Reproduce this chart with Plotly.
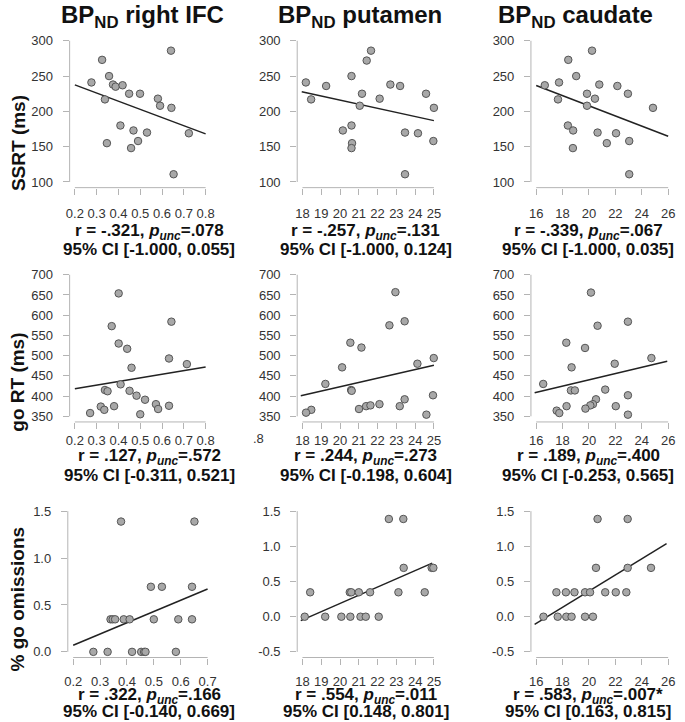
import plotly.graph_objects as go

# ---------------- data ----------------
# Row 1: SSRT (ms)
ssrt_ifc_x = [0.276, 0.325, 0.338, 0.347, 0.357, 0.375, 0.387, 0.409, 0.419, 0.449, 0.458,
              0.469, 0.490, 0.499, 0.531, 0.581, 0.591, 0.641, 0.643, 0.653, 0.723]
ssrt_ifc_y = [241, 273, 217, 155, 250, 238, 235, 180, 237, 225, 148,
              173, 158, 225, 170, 218, 208, 286, 205, 111, 169]
ssrt_put_x = [18.18, 18.46, 19.26, 20.15, 20.61, 20.61, 20.64, 20.61, 21.05, 21.17, 21.42,
              21.65, 22.11, 22.68, 23.20, 23.46, 23.46, 24.15, 24.58, 25.00, 24.97]
ssrt_put_y = [241, 217, 236, 173, 250, 180, 155, 148, 208, 225, 272,
              286, 218, 238, 236, 170, 111, 169, 225, 205, 158]
ssrt_cau_x = [16.65, 17.73, 17.65, 18.43, 18.40, 18.80, 18.78, 19.03, 19.85, 19.85, 20.23,
              20.45, 20.65, 20.78, 21.35, 22.05, 22.15, 22.95, 23.05, 23.05, 24.85]
ssrt_cau_y = [237, 241, 217, 273, 180, 173, 148, 250, 225, 208, 286,
              218, 170, 238, 155, 169, 236, 225, 158, 111, 205]

# Row 2: go RT (ms)
gort_ifc_x = [0.401, 0.369, 0.401, 0.440, 0.643, 0.460, 0.632, 0.714, 0.410, 0.338, 0.350,
              0.451, 0.483, 0.522, 0.572, 0.632, 0.319, 0.380, 0.582, 0.270, 0.335, 0.500]
gort_ifc_y = [654, 573, 530, 517, 584, 470, 493, 479, 429, 415, 412,
              413, 401, 391, 380, 376, 374, 375, 368, 358, 366, 355]
gort_put_x = [18.47, 19.22, 20.11, 20.55, 20.59, 20.62, 21.14, 21.01, 21.39, 21.62, 22.10,
              22.63, 22.95, 23.44, 23.18, 23.44, 24.12, 24.99, 24.95, 24.60, 18.19]
gort_put_y = [366, 430, 471, 532, 415, 413, 520, 368, 375, 377, 380,
              575, 657, 585, 375, 392, 480, 494, 402, 354, 359]
gort_cau_x = [16.53, 20.15, 20.65, 18.28, 19.70, 18.68, 21.95, 22.95, 24.73, 18.63, 18.93,
              21.23, 22.95, 20.53, 20.30, 20.10, 19.73, 18.30, 22.03, 17.55, 17.75, 22.95]
gort_cau_y = [430, 656, 574, 532, 519, 471, 480, 584, 494, 414, 414,
              416, 402, 392, 380, 377, 369, 375, 375, 364, 358, 354]

# Row 3: % go omissions
om_ifc_x = [0.378, 0.651, 0.489, 0.530, 0.642, 0.339, 0.347, 0.356, 0.388, 0.410, 0.500,
            0.591, 0.642, 0.275, 0.328, 0.419, 0.453, 0.464, 0.469, 0.582]
om_ifc_y = [1.389, 1.389, 0.694, 0.694, 0.694, 0.347, 0.347, 0.347, 0.347, 0.347, 0.347,
            0.347, 0.347, 0.0, 0.0, 0.0, 0.0, 0.0, 0.0, 0.0]
om_put_x = [18.12, 18.41, 19.21, 20.07, 20.55, 20.52, 20.60, 21.00, 21.09, 21.37, 21.60,
            22.06, 22.60, 23.37, 23.39, 23.11, 24.51, 24.88, 24.97]
om_put_y = [0.0, 0.347, 0.0, 0.0, 0.0, 0.347, 0.347, 0.347, 0.0, 0.0, 0.347,
            0.0, 1.389, 1.389, 0.694, 0.347, 0.347, 0.694, 0.694]
om_cau_x = [16.55, 17.53, 18.25, 18.90, 17.63, 18.28, 18.68, 19.70, 20.30, 19.70, 20.08,
            20.65, 20.53, 21.23, 22.03, 22.83, 22.93, 22.93, 24.70]
om_cau_y = [0.0, 0.347, 0.347, 0.347, 0.0, 0.0, 0.0, 0.0, 0.0, 0.347, 0.347,
            1.389, 0.694, 0.347, 0.347, 0.347, 1.389, 0.694, 0.694]

# regression lines (end points)
fit_x = [[0.2, 0.8], [17.96, 25.0], [16.0, 26.0],
         [0.2, 0.8], [17.91, 25.0], [15.88, 25.93],
         [0.2, 0.7], [17.91, 24.91], [15.88, 25.88]]
fit_y = [[237.6, 168.1], [227.7, 186.9], [236.6, 164.8],
         [418.0, 472.0], [401.0, 476.0], [408.0, 486.0],
         [0.07, 0.67], [-0.056, 0.762], [-0.11, 1.04]]

# tick values
xt_ifc = [0.2, 0.3, 0.4, 0.5, 0.6, 0.7, 0.8]
xt_ifc3 = [0.2, 0.3, 0.4, 0.5, 0.6, 0.7]
xt_put = [18, 19, 20, 21, 22, 23, 24, 25]
xt_cau = [16, 18, 20, 22, 24, 26]
yt_ssrt = [100, 150, 200, 250, 300]
yt_gort = [350, 400, 450, 500, 550, 600, 650, 700]
yt_om1 = [0.0, 0.5, 1.0, 1.5]
yt_om = [-0.5, 0.0, 0.5, 1.0, 1.5]

col_titles = ["BP<sub>ND</sub> right IFC", "BP<sub>ND</sub> putamen", "BP<sub>ND</sub> caudate"]
row_titles = ["SSRT (ms)", "go RT (ms)", "% go omissions"]
stat_r = ["-.321", "-.257", "-.339", ".127", ".244", ".189", ".322", ".554", ".583"]
stat_p = [".078", ".131", ".067", ".572", ".273", ".400", ".166", ".011", ".007*"]
stat_ci = ["[-1.000, 0.055]", "[-1.000, 0.124]", "[-1.000, 0.035]",
           "[-0.311, 0.521]", "[-0.198, 0.604]", "[-0.253, 0.565]",
           "[-0.140, 0.669]", "[0.148, 0.801]", "[0.163, 0.815]"]

# ---------------- layout helpers ----------------
W, H = 685, 722
FONT = "Liberation Sans, Arial, Helvetica, sans-serif"
AX_COL = "#b4b4b4"

panels = [
    (ssrt_ifc_x, ssrt_ifc_y, xt_ifc, yt_ssrt, (71.7, 204.0), (181.0, 39.0)),
    (ssrt_put_x, ssrt_put_y, xt_put, yt_ssrt, (302.0, 435.0), (181.0, 39.0)),
    (ssrt_cau_x, ssrt_cau_y, xt_cau, yt_ssrt, (538.5, 672.0), (181.0, 39.0)),
    (gort_ifc_x, gort_ifc_y, xt_ifc, yt_gort, (71.7, 204.0), (416.6, 274.3)),
    (gort_put_x, gort_put_y, xt_put, yt_gort, (302.0, 435.0), (416.6, 274.3)),
    (gort_cau_x, gort_cau_y, xt_cau, yt_gort, (538.5, 672.0), (416.6, 274.3)),
    (om_ifc_x, om_ifc_y, xt_ifc3, yt_om1, (70.0, 206.0), (653.5, 512.0)),
    (om_put_x, om_put_y, xt_put, yt_om, (302.0, 435.0), (653.5, 512.0)),
    (om_cau_x, om_cau_y, xt_cau, yt_om, (538.5, 672.0), (653.5, 512.0)),
]
# per row: centre (px from top) of x tick labels, r line, CI line
row_text = [(212, 231, 249), (439, 458, 476), (682, 698, 713)]
TICKLEN = 6
LABEL_HALF = 11.3   # distance from standoff edge to label centre


def fmt(v):
    return f"{v:.1f}" if isinstance(v, float) else str(v)


fig = go.Figure()
shapes = []
annotations = []
layout = {}
EXT = 0.04

for i, (xs, ys, xt, yt, (px0, px1), (py0, py1)) in enumerate(panels):
    k = i + 1
    r = i // 3
    xa = "x" if k == 1 else f"x{k}"
    ya = "y" if k == 1 else f"y{k}"
    xlo, xhi = xt[0], xt[-1]
    ylo, yhi = yt[0], yt[-1]
    dxr = (xhi - xlo) * EXT
    dyr = (yhi - ylo) * EXT
    dpx = (px1 - px0) * EXT
    dpy = (py0 - py1) * EXT
    xdom = [(px0 - dpx) / W, (px1 + dpx) / W]
    ydom = [1 - (py0 + dpy) / H, 1 - (py1 - dpy) / H]
    lab_y, r_y, ci_y = row_text[r]
    x_standoff = int(round(max(0, lab_y - (py0 + dpy) - TICKLEN - LABEL_HALF)))

    layout["xaxis" if k == 1 else f"xaxis{k}"] = dict(
        domain=xdom, range=[xlo - dxr, xhi + dxr], anchor=ya,
        showgrid=False, zeroline=False, showline=False,
        ticks="outside", ticklen=TICKLEN, tickwidth=1, tickcolor=AX_COL,
        tickvals=xt, ticktext=[fmt(v) for v in xt],
        tickfont=dict(family=FONT, size=13, color="#333333"),
        ticklabelstandoff=x_standoff,
    )
    layout["yaxis" if k == 1 else f"yaxis{k}"] = dict(
        domain=ydom, range=[ylo - dyr, yhi + dyr], anchor=xa,
        showgrid=False, zeroline=False, showline=False,
        ticks="outside", ticklen=TICKLEN, tickwidth=1, tickcolor=AX_COL,
        tickvals=yt, ticktext=[fmt(v) for v in yt],
        tickfont=dict(family=FONT, size=13, color="#333333"),
        ticklabelstandoff=7,
    )
    # R-style axis lines spanning first..last tick
    shapes.append(dict(type="line", xref=xa, yref=f"{ya} domain",
                       x0=xlo, x1=xhi, y0=0, y1=0,
                       line=dict(color=AX_COL, width=1)))
    shapes.append(dict(type="line", xref=f"{xa} domain", yref=ya,
                       x0=0, x1=0, y0=ylo, y1=yhi,
                       line=dict(color=AX_COL, width=1)))

    fig.add_trace(go.Scatter(x=fit_x[i], y=fit_y[i], mode="lines",
                             line=dict(color="#222222", width=1.5),
                             xaxis=xa, yaxis=ya, showlegend=False, hoverinfo="skip"))
    fig.add_trace(go.Scatter(x=xs, y=ys, mode="markers", cliponaxis=False,
                             marker=dict(size=7.5, color="#a8a8a8",
                                         line=dict(color="#555555", width=1)),
                             xaxis=xa, yaxis=ya, showlegend=False))

    # statistics text under the panel
    cx = [147, 366, 591][i % 3] / W
    annotations.append(dict(
        x=cx, y=1 - r_y / H, xref="paper", yref="paper",
        text=f"<b>r = {stat_r[i]}, <i>p<sub>unc</sub></i>={stat_p[i]}</b>",
        showarrow=False, xanchor="center", yanchor="middle",
        font=dict(family=FONT, size=17, color="#111111")))
    annotations.append(dict(
        x=cx, y=1 - ci_y / H, xref="paper", yref="paper",
        text=f"<b>95% CI {stat_ci[i]}</b>",
        showarrow=False, xanchor="center", yanchor="middle",
        font=dict(family=FONT, size=17, color="#111111")))

for j, t in enumerate(col_titles):
    annotations.append(dict(
        x=[140, 360, 578][j] / W, y=1 - 15 / H, xref="paper", yref="paper",
        text=f"<b>{t}</b>", showarrow=False, xanchor="center", yanchor="middle",
        font=dict(family=FONT, size=24, color="#111111")))

for j, t in enumerate(row_titles):
    annotations.append(dict(
        x=14 / W, y=1 - [142, 382, 600][j] / H, xref="paper", yref="paper",
        text=f"<b>{t}</b>", showarrow=False, textangle=-90,
        xanchor="center", yanchor="middle",
        font=dict(family=FONT, size=19, color="#111111")))

# stray label fragment visible in the reference
annotations.append(dict(x=258 / W, y=1 - row_text[1][0] / H, xref="paper", yref="paper",
                        text=".8", showarrow=False, xanchor="center", yanchor="middle",
                        font=dict(family=FONT, size=13, color="#333333")))

fig.update_layout(
    width=W, height=H, autosize=False,
    margin=dict(l=0, r=0, t=0, b=0),
    paper_bgcolor="white", plot_bgcolor="white",
    shapes=shapes, annotations=annotations,
    **layout,
)

fig.write_html("out.html",
               config={"displayModeBar": False},
               post_script="document.body.style.margin='0px';"
                           "document.body.style.overflow='hidden';")
